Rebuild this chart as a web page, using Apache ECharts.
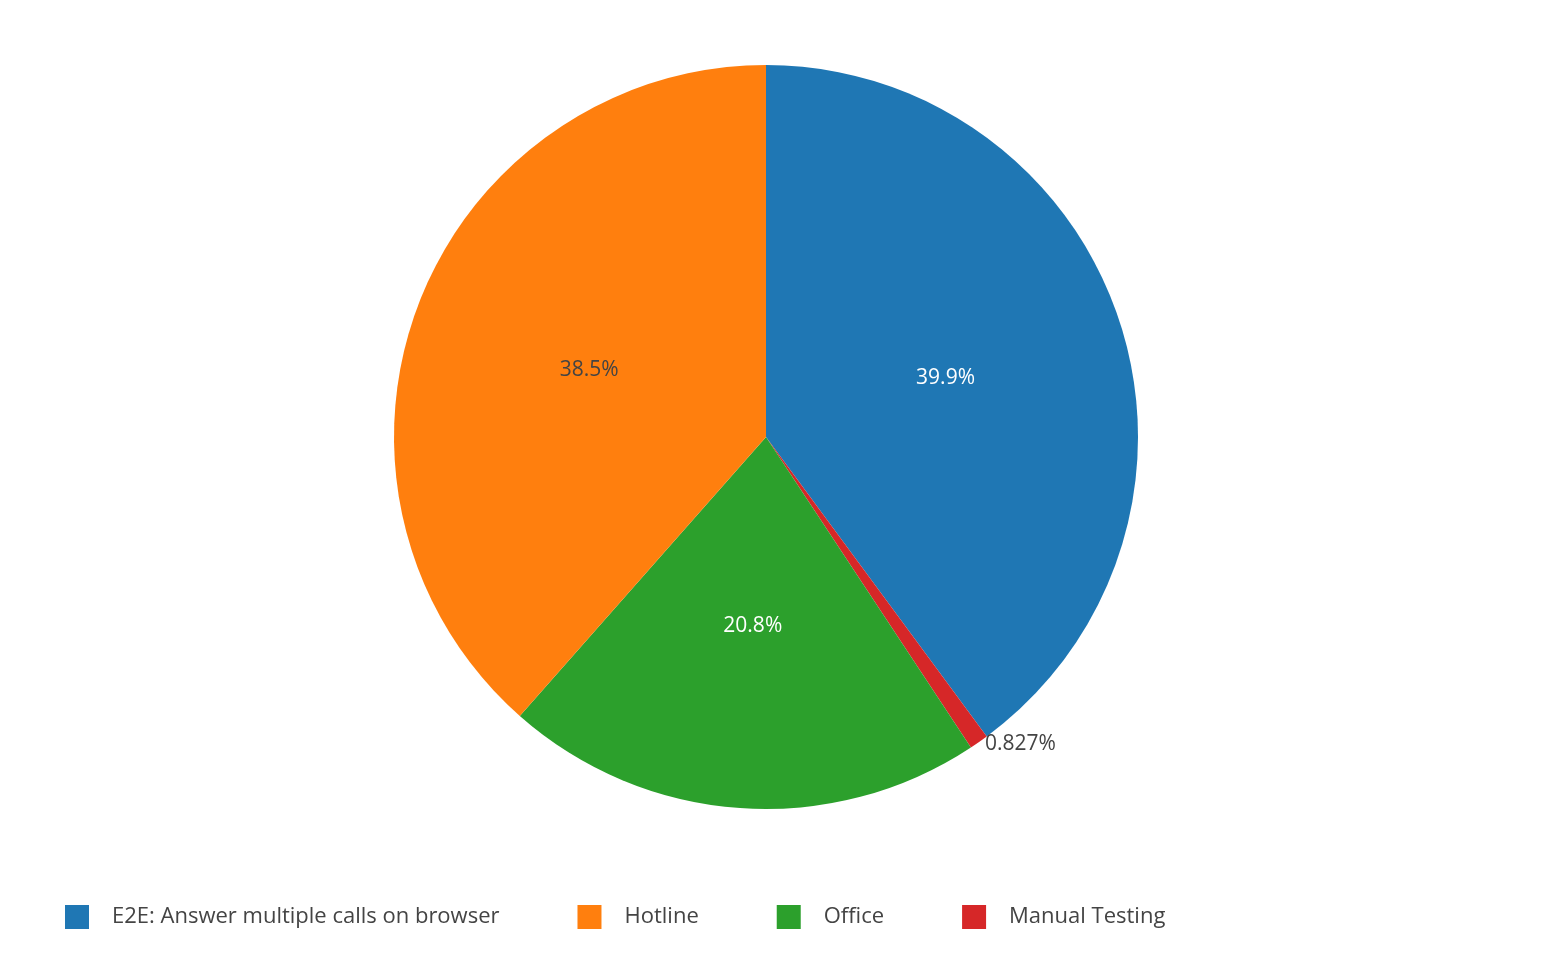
<!DOCTYPE html>
<html><head><meta charset="utf-8">
<script src="https://cdn.jsdelivr.net/npm/echarts@6/dist/echarts.min.js"></script>
<style>html,body{margin:0;padding:0;background:#fff}#c{width:1552px;height:974px}</style>
</head><body><div id="c"></div>
<script>
const categories = ["E2E: Answer multiple calls on browser", "Manual Testing", "Office", "Hotline"];
const values = [39.9, 0.827, 20.8, 38.5];
const colors = ["#1f77b4", "#d62728", "#2ca02c", "#ff7f0e"];
const legendOrder = ["E2E: Answer multiple calls on browser", "Hotline", "Office", "Manual Testing"];
const textColors = ["#fff", "#444", "#fff", "#444"];

const chart = echarts.init(document.getElementById('c'));
chart.setOption({
  animation: false,
  textStyle: {fontFamily: "Open Sans"},
  legend: {
    data: legendOrder, orient: 'horizontal', left: 60, top: 900,
    itemWidth: 24, itemHeight: 24, itemGap: 78, icon: 'rect',
    textStyle: {fontSize: 22, color: '#444', padding: [0, 0, 0, 18]}
  },
  series: [{
    type: 'pie', center: [766, 437], radius: [0, 372],
    startAngle: 90, clockwise: true, sort: 'none',
    data: categories.map((n, i) => ({
      name: n, value: values[i],
      itemStyle: {color: colors[i]},
      label: i === 1 ? {position: 'outside', color: '#444', distance: 8} : {position: 'inside', color: textColors[i]},
      labelLine: {show: i === 1, length: 2, length2: 0, lineStyle: {opacity: 0}}
    })),
    label: {show: true, fontSize: 21, fontFamily: "Open Sans", formatter: p => p.value + '%'},
    itemStyle: {borderColor: '#fff', borderWidth: 0}
  }]
});
</script></body></html>
